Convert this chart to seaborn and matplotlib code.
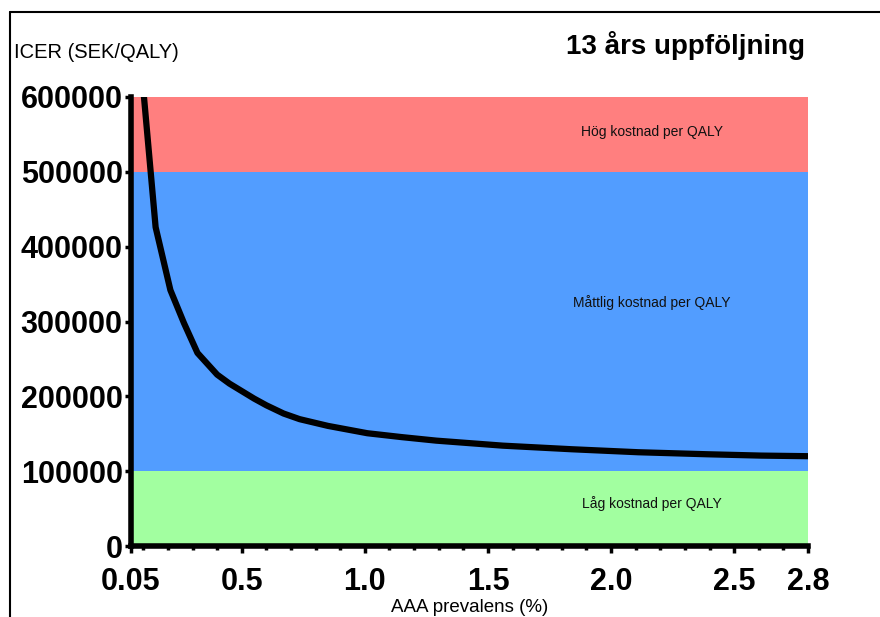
import matplotlib
matplotlib.use("Agg")
import matplotlib.pyplot as plt
from matplotlib.lines import Line2D
from matplotlib.ticker import MultipleLocator
import seaborn as sns
import pandas as pd

# Data
prevalence = [0.10, 0.15, 0.21, 0.265, 0.32, 0.40, 0.45, 0.50, 0.55, 0.60, 0.67,
              0.735, 0.85, 1.01, 1.15, 1.29, 1.56, 1.84, 2.11, 2.39, 2.61, 2.80]
icer = [610000, 426000, 342000, 298000, 258000, 229000, 217000, 207000, 197000,
        188000, 177000, 169500, 160500, 150700, 145500, 140800, 134100, 129300,
        125300, 122600, 120800, 120000]

band_names = ["Låg kostnad per QALY", "Måttlig kostnad per QALY", "Hög kostnad per QALY"]
band_low = [0, 100000, 500000]
band_high = [100000, 500000, 600000]
band_colors = ["#A2FFA0", "#529DFF", "#FF7F7F"]
band_label_y = [57000, 326000, 553000]

xtick_vals = [0.05, 0.5, 1.0, 1.5, 2.0, 2.5, 2.8]
xtick_labels = ["0.05", "0.5", "1.0", "1.5", "2.0", "2.5", "2.8"]
ytick_vals = [0, 100000, 200000, 300000, 400000, 500000, 600000]

sns.set_theme(style="white")
plt.rcParams["font.family"] = ["Liberation Sans", "DejaVu Sans"]
plt.rcParams["text.color"] = "black"
plt.rcParams["xtick.color"] = "black"
plt.rcParams["ytick.color"] = "black"

fig = plt.figure(figsize=(8.8, 6.17), dpi=100)
ax = fig.add_axes([131/880, 1-546/617, (808-131)/880, (546-97)/617])

for lo, hi, c in zip(band_low, band_high, band_colors):
    ax.axhspan(lo, hi, color=c, lw=0, zorder=0)
for name, yy in zip(band_names, band_label_y):
    ax.text(2.165, yy, name, ha="center", va="center", fontsize=10, color="#111111", zorder=1)

df = pd.DataFrame({"prev": prevalence, "icer": icer})
sns.lineplot(data=df, x="prev", y="icer", ax=ax, color="black", lw=4.5, zorder=3,
             solid_joinstyle="round", solid_capstyle="butt")

ax.set_xlim(0.05, 2.8)
ax.set_ylim(0, 600000)
ax.set_xticks(xtick_vals)
ax.set_xticklabels(xtick_labels, fontsize=22, fontweight="bold")
ax.set_yticks(ytick_vals)
ax.set_yticklabels([str(v) for v in ytick_vals], fontsize=22, fontweight="bold")
ax.xaxis.set_minor_locator(MultipleLocator(0.1))
ax.set_xlabel("")
ax.set_ylabel("")

for s in ["top", "right"]:
    ax.spines[s].set_visible(False)
for s in ["left", "bottom"]:
    ax.spines[s].set_linewidth(4)
    ax.spines[s].set_color("black")

ax.tick_params(axis="y", which="major", direction="out", length=4, width=2.5, pad=2, left=True)
ax.tick_params(axis="x", which="major", direction="out", length=5, width=2.5, pad=10, bottom=True)
ax.tick_params(axis="x", which="minor", direction="out", length=3, width=2.5, bottom=True)

fig.text(14/880, 1-52/617, "ICER (SEK/QALY)", fontsize=14.5, ha="left", va="center")
fig.text(805/880, 1-45/617, "13 års uppföljning", fontsize=20, fontweight="bold", ha="right", va="center")
fig.text(470/880, 1-607/617, "AAA prevalens (%)", fontsize=13.5, ha="center", va="center")

fig.add_artist(Line2D([10/880, 1.0], [1-12/617, 1-12/617], color="black", lw=1.5, transform=fig.transFigure))
fig.add_artist(Line2D([10/880, 10/880], [0.0, 1-12/617], color="black", lw=1.5, transform=fig.transFigure))

fig.savefig("out.png", dpi=100)
